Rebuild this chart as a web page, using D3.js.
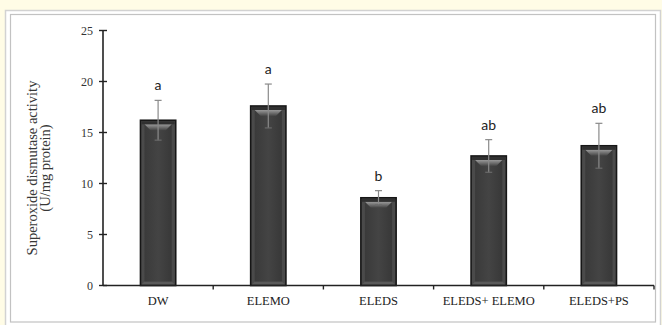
<!DOCTYPE html>
<html>
<head>
<meta charset="utf-8">
<script src="https://cdn.jsdelivr.net/npm/d3@7"></script>
<style>
  html, body { margin: 0; padding: 0; background: #fffce6; }
  svg { display: block; }
</style>
</head>
<body>
<svg id="chart" width="662" height="325"></svg>
<script>
// Superoxide dismutase activity per treatment group (mean ± SD)
const categories = ["DW", "ELEMO", "ELEDS", "ELEDS+ ELEMO", "ELEDS+PS"];
const means = [16.2, 17.6, 8.6, 12.7, 13.7];
const sds = [1.95, 2.15, 0.7, 1.6, 2.2];
const letters = ["a", "a", "b", "ab", "ab"];
const yTicks = [0, 5, 10, 15, 20, 25];
const yTitle = ["Superoxide dismutase activity", "(U/mg protein)"];

const svg = d3.select("#chart");

// panel frame
svg.append("rect").attr("x", 5.5).attr("y", 10.5).attr("width", 655).attr("height", 316)
  .attr("fill", "#ffffff").attr("stroke", "#d2d2d2").attr("stroke-width", 1.5);
svg.append("rect").attr("x", 10.5).attr("y", 14.5).attr("width", 645).attr("height", 307.5)
  .attr("fill", "#ffffff").attr("stroke", "#c2c2c2").attr("stroke-width", 1.2);

const x0 = 103, x1 = 654, yBase = 285.5, yTop = 30.5;

const x = d3.scaleBand().domain(categories).range([x0, x1])
  .paddingInner(0.68).paddingOuter(0.34);
const y = d3.scaleLinear().domain([0, 25]).range([yBase, yTop]);

// gradients for bar shading
const defs = svg.append("defs");
const face = defs.append("linearGradient").attr("id", "face").attr("x1", 0).attr("x2", 1).attr("y1", 0).attr("y2", 0);
face.append("stop").attr("offset", "0%").attr("stop-color", "#3a3a3a");
face.append("stop").attr("offset", "50%").attr("stop-color", "#444444");
face.append("stop").attr("offset", "100%").attr("stop-color", "#383838");
const shine = defs.append("linearGradient").attr("id", "shine").attr("x1", 0).attr("x2", 0).attr("y1", 0).attr("y2", 1);
shine.append("stop").attr("offset", "0%").attr("stop-color", "#9a9a9a");
shine.append("stop").attr("offset", "100%").attr("stop-color", "#454545");

const data = categories.map((c, i) => ({ c, m: means[i], sd: sds[i], l: letters[i] }));

const bars = svg.append("g");
data.forEach(d => {
  const bx = x(d.c), bw = x.bandwidth(), by = y(d.m), bh = y(0) - y(d.m);
  const g = bars.append("g");
  // outer body
  g.append("rect").attr("x", bx).attr("y", by).attr("width", bw).attr("height", bh)
    .attr("fill", "#4a4a4a").attr("stroke", "#161616").attr("stroke-width", 1.6);
  const b = 4;
  // bottom bevel (lighter)
  g.append("path")
    .attr("d", `M${bx+1},${by+bh-1} L${bx+b},${by+bh-b} L${bx+bw-b},${by+bh-b} L${bx+bw-1},${by+bh-1} Z`)
    .attr("fill", "#5a5a5a");
  // inner face
  g.append("rect").attr("x", bx + b).attr("y", by + b).attr("width", bw - 2 * b).attr("height", Math.max(0, bh - 2 * b))
    .attr("fill", "url(#face)");
  // top highlight
  g.append("path")
    .attr("d", `M${bx+b},${by+b} L${bx+bw-b},${by+b} L${bx+bw-b-6},${by+b+6} L${bx+b+6},${by+b+6} Z`)
    .attr("fill", "url(#shine)");
  g.append("rect").attr("x", bx + 1).attr("y", by + 1).attr("width", bw - 2).attr("height", b - 1)
    .attr("fill", "#303030");
});

// error bars
const err = svg.append("g").attr("stroke", "#8a8a8a").attr("stroke-width", 1.2).attr("fill", "none");
data.forEach(d => {
  const cx = x(d.c) + x.bandwidth() / 2;
  err.append("line").attr("x1", cx).attr("x2", cx).attr("y1", y(d.m - d.sd)).attr("y2", y(d.m + d.sd));
  err.append("line").attr("x1", cx - 3.5).attr("x2", cx + 3.5).attr("y1", y(d.m + d.sd)).attr("y2", y(d.m + d.sd));
  err.append("line").attr("x1", cx - 3.5).attr("x2", cx + 3.5).attr("y1", y(d.m - d.sd)).attr("y2", y(d.m - d.sd))
    .attr("stroke", "#6a6a6a");
});

// significance letters
svg.append("g").selectAll("text").data(data).join("text")
  .attr("x", d => x(d.c) + x.bandwidth() / 2)
  .attr("y", d => y(d.m + d.sd) - 10)
  .attr("text-anchor", "middle")
  .attr("font-family", "Lato, 'Open Sans', sans-serif")
  .attr("font-size", 14)
  .attr("fill", "#222")
  .text(d => d.l);

// y axis
const yAxis = svg.append("g").attr("transform", `translate(${x0},0)`);
yAxis.append("line").attr("x1", 0).attr("x2", 0).attr("y1", y(25)).attr("y2", y(0))
  .attr("stroke", "#222").attr("stroke-width", 1.6);
yAxis.selectAll("line.tick").data(yTicks).join("line").attr("class", "tick")
  .attr("x1", -4).attr("x2", 4).attr("y1", d => y(d)).attr("y2", d => y(d))
  .attr("stroke", "#222").attr("stroke-width", 1.4);
yAxis.selectAll("text").data(yTicks).join("text")
  .attr("x", -10).attr("y", d => y(d)).attr("dy", "0.35em")
  .attr("text-anchor", "end")
  .attr("font-family", "'Liberation Serif', 'Times New Roman', serif")
  .attr("font-size", 12).attr("fill", "#333")
  .text(d => d);

// x axis with boundary ticks
const xAxis = svg.append("g");
xAxis.append("line").attr("x1", x0).attr("x2", x1).attr("y1", yBase).attr("y2", yBase)
  .attr("stroke", "#222").attr("stroke-width", 1.6);
const bounds = d3.range(1, categories.length + 1).map(k => x0 + k * x.step());
xAxis.selectAll("line.tick").data(bounds).join("line").attr("class", "tick")
  .attr("x1", d => d).attr("x2", d => d).attr("y1", yBase).attr("y2", yBase + 4)
  .attr("stroke", "#222").attr("stroke-width", 1.4);
xAxis.selectAll("text").data(categories).join("text")
  .attr("x", d => x(d) + x.bandwidth() / 2).attr("y", 305)
  .attr("text-anchor", "middle")
  .attr("font-family", "'Liberation Serif', 'Times New Roman', serif")
  .attr("font-size", 12.5).attr("fill", "#222")
  .text(d => d);

// y title (two lines, rotated)
const ty = svg.append("text")
  .attr("transform", `translate(37, ${(yBase + yTop) / 2 + 10}) rotate(-90)`)
  .attr("text-anchor", "middle")
  .attr("font-family", "'Liberation Serif', 'Times New Roman', serif")
  .attr("font-size", 14.5).attr("fill", "#383838");
ty.selectAll("tspan").data(yTitle).join("tspan")
  .attr("x", 0).attr("dy", (d, i) => i === 0 ? 0 : 13)
  .text(d => d);
</script>
</body>
</html>
